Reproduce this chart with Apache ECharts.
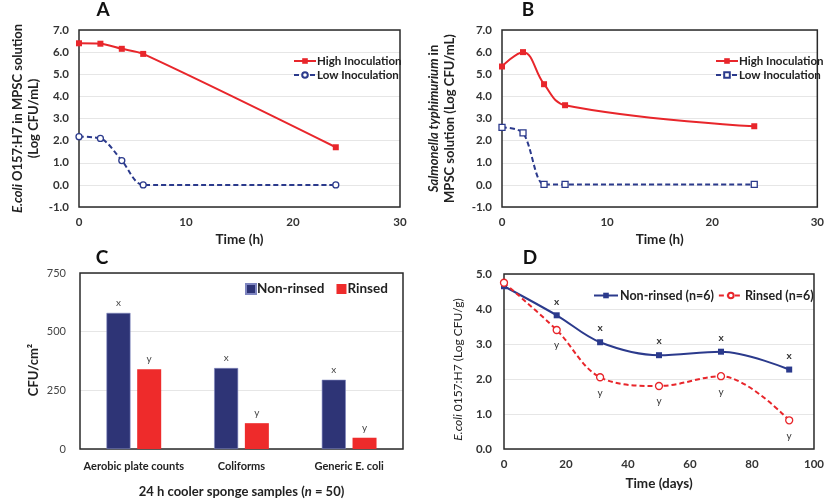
<!DOCTYPE html>
<html><head><meta charset="utf-8">
<script src="https://cdn.jsdelivr.net/npm/echarts@6/dist/echarts.min.js"></script>
<style>html,body{margin:0;padding:0;background:#fff}#c{width:827px;height:503px;background:#fff}</style>
</head><body><div id="c"></div>
<script>
// Panel A
const aTime = [0, 2, 4, 6, 24];
const aHigh = [6.4, 6.38, 6.15, 5.92, 1.7];
const aLow = [2.18, 2.1, 1.1, 0.0, 0.0];
// Panel B
const bTime = [0, 2, 4, 6, 24];
const bHigh = [5.35, 6.0, 4.55, 3.6, 2.65];
const bLow = [2.6, 2.35, 0.02, 0.02, 0.02];
// Panel C
const cCategories = ['Aerobic plate counts', 'Coliforms', 'Generic E. coli'];
const cNonRinsed = [580, 345, 295];
const cRinsed = [340, 110, 48];
const cLabelsNon = ['x', 'x', 'x'];
const cLabelsRinsed = ['y', 'y', 'y'];
// Panel D
const dDays = [0, 17, 31, 50, 70, 92];
const dNonRinsed = [4.65, 3.82, 3.05, 2.68, 2.78, 2.27];
const dRinsed = [4.75, 3.4, 2.05, 1.8, 2.08, 0.82];
const dLabelsNon = ['', 'x', 'x', 'x', 'x', 'x'];
const dLabelsRinsed = ['', 'y', 'y', 'y', 'y', 'y'];
// Axis ranges
const abXRange = [0, 30];
const abYRange = [-1, 7];
const cYRange = [0, 750];
const dXRange = [0, 100];
const dYRange = [0, 5];

const RED = '#E8262B';
const NAVY = '#2B3A8C';
const BAR_NAVY = '#2E3476';
const BAR_RED = '#EE2B2B';
const FONT = 'Lato, "Open Sans", sans-serif';

const pairs = (xs, ys) => xs.map((x, i) => [x, ys[i]]);
const withLabels = (xs, ys, labs) => xs.map((x, i) => ({value: [x, ys[i]], label: {show: !!labs[i], formatter: labs[i]}}));

const splitL = () => ({show: true, lineStyle: {color: '#e6e6e6', width: 1}});
const noLine = () => ({show: false});
const boldTick = {fontFamily: FONT, fontSize: 11.5, fontWeight: 'bold', color: '#333'};

// plot-area frame: a closed line through the axis range corners (library scales)
const frameSeries = (xi, yi, xr, yr) => ({
  type: 'line', xAxisIndex: xi, yAxisIndex: yi, silent: true, clip: false, z: 1, smooth: false,
  symbol: 'none', legendHoverLink: false, tooltip: {show: false},
  data: [[xr[0], yr[0]], [xr[1], yr[0]], [xr[1], yr[1]], [xr[0], yr[1]], [xr[0], yr[0]]],
  lineStyle: {color: '#2a2a2a', width: 1.5, cap: 'square', join: 'miter'}
});

const chart = echarts.init(document.getElementById('c'));
const option = {
  animation: false,
  graphic: [
    {type: 'text', x: 103, y: 10, style: {text: 'A', font: 'bold 19px ' + FONT, fill: '#111', align: 'center', verticalAlign: 'middle'}},
    {type: 'text', x: 528, y: 10, style: {text: 'B', font: 'bold 19px ' + FONT, fill: '#111', align: 'center', verticalAlign: 'middle'}},
    {type: 'text', x: 102, y: 258, style: {text: 'C', font: 'bold 19px ' + FONT, fill: '#111', align: 'center', verticalAlign: 'middle'}},
    {type: 'text', x: 530, y: 258, style: {text: 'D', font: 'bold 19px ' + FONT, fill: '#111', align: 'center', verticalAlign: 'middle'}}
  ],
  grid: [
    {left: 79, top: 30, width: 321, height: 177},
    {left: 502, top: 30, width: 317, height: 177},
    {left: 80, top: 273, width: 323, height: 176},
    {left: 504, top: 274, width: 314, height: 175}
  ],
  legend: [
    {data: ['High Inoculation', 'Low Inoculation'], orient: 'vertical', left: 288, top: 50, itemGap: 2, itemWidth: 22, itemHeight: 7,
     textStyle: {fontFamily: FONT, fontSize: 11.5, fontWeight: 'bold', color: '#222', padding: [0, 0, 0, -4]}},
    {data: ['High Inoculation B', 'Low Inoculation B'], orient: 'vertical', left: 710, top: 50, itemGap: 2, itemWidth: 22, itemHeight: 7,
     formatter: n => n.replace(' B', ''),
     textStyle: {fontFamily: FONT, fontSize: 11.5, fontWeight: 'bold', color: '#222', padding: [0, 0, 0, -4]}},
    {data: ['Non-rinsed', 'Rinsed'], left: 240, top: 277, itemGap: 12, itemWidth: 10, itemHeight: 10, icon: 'rect',
     textStyle: {fontFamily: FONT, fontSize: 13.5, fontWeight: 'bold', color: '#222', padding: [0, 0, 0, -4]}},
    {data: ['Non-rinsed (n=6)', 'Rinsed (n=6)'], left: 588, top: 284, itemGap: 4, itemWidth: 24, itemHeight: 7,
     textStyle: {fontFamily: FONT, fontSize: 12.5, fontWeight: 'bold', color: '#222', padding: [0, 0, 0, -3]}}
  ],
  xAxis: [
    {gridIndex: 0, type: 'value', min: abXRange[0], max: abXRange[1], interval: 10, axisLine: noLine(), axisTick: {show: false}, splitLine: {show: false},
     axisLabel: Object.assign({margin: 9}, boldTick),
     name: 'Time (h)', nameLocation: 'middle', nameGap: 26, nameTextStyle: {fontFamily: FONT, fontSize: 13.5, fontWeight: 'bold', color: '#222'}},
    {gridIndex: 1, type: 'value', min: abXRange[0], max: abXRange[1], interval: 10, axisLine: noLine(), axisTick: {show: false}, splitLine: {show: false},
     axisLabel: Object.assign({margin: 9}, boldTick),
     name: 'Time (h)', nameLocation: 'middle', nameGap: 26, nameTextStyle: {fontFamily: FONT, fontSize: 13.5, fontWeight: 'bold', color: '#222'}},
    {gridIndex: 2, type: 'category', data: cCategories, axisLine: noLine(), axisTick: {show: false},
     axisLabel: {fontFamily: FONT, fontSize: 11, fontWeight: 'bold', color: '#222', margin: 12, interval: 0},
     name: '24 h cooler sponge samples ({i|n} = 50)', nameLocation: 'middle', nameGap: 36,
     nameTextStyle: {fontFamily: FONT, fontSize: 13, fontWeight: 'bold', color: '#222',
       rich: {i: {fontFamily: FONT, fontSize: 13, fontWeight: 'bold', fontStyle: 'italic', color: '#222'}}}},
    {gridIndex: 3, type: 'value', min: dXRange[0], max: dXRange[1], interval: 20, axisLine: noLine(), axisTick: {show: false}, splitLine: {show: false},
     axisLabel: Object.assign({margin: 9}, boldTick),
     name: 'Time (days)', nameLocation: 'middle', nameGap: 28, nameTextStyle: {fontFamily: FONT, fontSize: 13.5, fontWeight: 'bold', color: '#222'}},
    // hidden helper axis for the frame of panel C
    {gridIndex: 2, type: 'value', min: 0, max: 1, show: false}
  ],
  yAxis: [
    {gridIndex: 0, type: 'value', min: abYRange[0], max: abYRange[1], interval: 1, axisLine: noLine(), axisTick: {show: false}, splitLine: splitL(),
     axisLabel: Object.assign({margin: 10, formatter: v => v.toFixed(1)}, boldTick),
     name: '{i|E.coli} O157:H7 in MPSC solution\n(Log CFU/mL)', nameLocation: 'middle', nameGap: 37,
     nameTextStyle: {fontFamily: FONT, fontSize: 13, fontWeight: 'bold', color: '#222', lineHeight: 16,
       rich: {i: {fontFamily: FONT, fontSize: 13, fontWeight: 'bold', fontStyle: 'italic', color: '#222', lineHeight: 16}}}},
    {gridIndex: 1, type: 'value', min: abYRange[0], max: abYRange[1], interval: 1, axisLine: noLine(), axisTick: {show: false}, splitLine: splitL(),
     axisLabel: Object.assign({margin: 10, formatter: v => v.toFixed(1)}, boldTick),
     name: '{i|Salmonella typhimurium} in\nMPSC solution (Log CFU/mL)', nameLocation: 'middle', nameGap: 44,
     nameTextStyle: {fontFamily: FONT, fontSize: 13, fontWeight: 'bold', color: '#222', lineHeight: 16,
       rich: {i: {fontFamily: FONT, fontSize: 13, fontWeight: 'bold', fontStyle: 'italic', color: '#222', lineHeight: 16}}}},
    {gridIndex: 2, type: 'value', min: cYRange[0], max: cYRange[1], interval: 250, axisLine: noLine(), axisTick: {show: false}, splitLine: splitL(),
     axisLabel: {fontFamily: FONT, fontSize: 11, color: '#444', margin: 14},
     name: 'CFU/cm²', nameLocation: 'middle', nameGap: 40,
     nameTextStyle: {fontFamily: FONT, fontSize: 13, fontWeight: 'bold', color: '#222', padding: [0, 18, 0, 0]}},
    {gridIndex: 3, type: 'value', min: dYRange[0], max: dYRange[1], interval: 1, axisLine: noLine(), axisTick: {show: false}, splitLine: splitL(),
     axisLabel: Object.assign({margin: 12, formatter: v => v.toFixed(1)}, boldTick),
     name: '{i|E.coli} 0157:H7 (Log CFU/g)', nameLocation: 'middle', nameGap: 40,
     nameTextStyle: {fontFamily: FONT, fontSize: 12, color: '#222', padding: [0, 16, 0, 0],
       rich: {i: {fontFamily: FONT, fontSize: 12, fontStyle: 'italic', color: '#222'}}}}
  ],
  series: [
    frameSeries(0, 0, abXRange, abYRange),
    frameSeries(1, 1, abXRange, abYRange),
    frameSeries(4, 2, [0, 1], cYRange),
    frameSeries(3, 3, dXRange, dYRange),
    {name: 'High Inoculation', type: 'line', xAxisIndex: 0, yAxisIndex: 0, data: pairs(aTime, aHigh), smooth: 0.3, z: 3,
     symbol: 'rect', symbolSize: 6, itemStyle: {color: RED}, lineStyle: {color: RED, width: 2}},
    {name: 'Low Inoculation', type: 'line', xAxisIndex: 0, yAxisIndex: 0, data: pairs(aTime, aLow), smooth: 0.3, z: 3,
     symbol: 'circle', symbolSize: 6, itemStyle: {color: '#fff', borderColor: NAVY, borderWidth: 1.3}, lineStyle: {color: NAVY, width: 2, type: [5, 3]}},
    {name: 'High Inoculation B', type: 'line', xAxisIndex: 1, yAxisIndex: 1, data: pairs(bTime, bHigh), smooth: 0.4, z: 3,
     symbol: 'rect', symbolSize: 6, itemStyle: {color: RED}, lineStyle: {color: RED, width: 2}},
    {name: 'Low Inoculation B', type: 'line', xAxisIndex: 1, yAxisIndex: 1, data: pairs(bTime, bLow), smooth: 0.3, z: 3,
     symbol: 'rect', symbolSize: 6, itemStyle: {color: '#fff', borderColor: NAVY, borderWidth: 1.3}, lineStyle: {color: NAVY, width: 2, type: [5, 3]}},
    {name: 'Non-rinsed', type: 'bar', xAxisIndex: 2, yAxisIndex: 2, data: cNonRinsed.map((v, i) => ({value: v, label: {formatter: cLabelsNon[i]}})),
     barWidth: 24, barGap: '28%', itemStyle: {color: BAR_NAVY, borderColor: '#7f86c0', borderWidth: 0.6},
     label: {show: true, position: 'top', distance: 5, fontFamily: FONT, fontSize: 10, color: '#444'}},
    {name: 'Rinsed', type: 'bar', xAxisIndex: 2, yAxisIndex: 2, data: cRinsed.map((v, i) => ({value: v, label: {formatter: cLabelsRinsed[i]}})),
     barWidth: 24, barGap: '28%', itemStyle: {color: BAR_RED},
     label: {show: true, position: 'top', distance: 5, fontFamily: FONT, fontSize: 10, color: '#444'}},
    {name: 'Non-rinsed (n=6)', type: 'line', xAxisIndex: 3, yAxisIndex: 3, data: withLabels(dDays, dNonRinsed, dLabelsNon), smooth: 0.35, z: 3,
     symbol: 'rect', symbolSize: 6, itemStyle: {color: NAVY}, lineStyle: {color: NAVY, width: 2},
     label: {position: 'top', distance: 6, fontFamily: FONT, fontSize: 10, fontWeight: 'bold', color: '#333'}},
    {name: 'Rinsed (n=6)', type: 'line', xAxisIndex: 3, yAxisIndex: 3, data: withLabels(dDays, dRinsed, dLabelsRinsed), smooth: 0.35, z: 3,
     symbol: 'circle', symbolSize: 7, itemStyle: {color: '#fff', borderColor: RED, borderWidth: 1.3}, lineStyle: {color: RED, width: 2, type: [5, 3]},
     label: {position: 'bottom', distance: 6, fontFamily: FONT, fontSize: 10, color: '#333'}}
  ]
};
chart.setOption(option);
</script></body></html>
